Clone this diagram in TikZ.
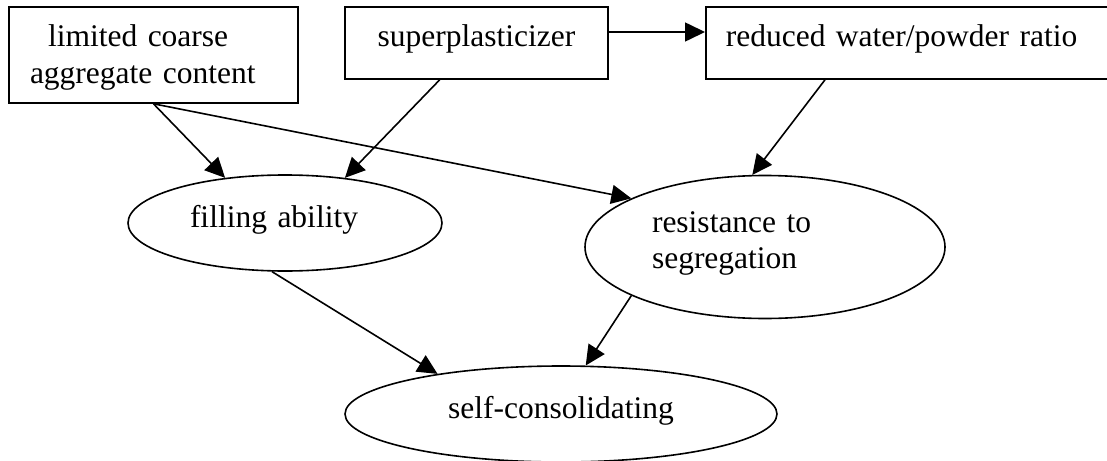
\documentclass[tikz,border=0pt]{standalone}
\usepackage{fontspec}
\setmainfont{Liberation Serif}
\usetikzlibrary{shapes.geometric,arrows.meta}

\begin{document}
\begin{tikzpicture}[x=1pt, y=-1pt, line width=1.6pt, >={Triangle[length=20pt,width=19pt]},
  every node/.style={font=\fontsize{31.5}{36}\selectfont, inner sep=0pt, text height=21pt, text depth=13pt},
  box/.style={draw, rectangle},
  oval/.style={draw, ellipse}]
  \useasboundingbox (0,0) rectangle (1107,460);

  \node[box, minimum width=289pt, minimum height=96pt, text width=247pt, align=left, text depth=37pt] (limited) at (153.5,55) {\hspace*{18pt}limited coarse\\aggregate content};
  \node[box, minimum width=263pt, minimum height=72pt] (superpl) at (476.5,43) {superplasticizer};
  \node[box, anchor=west, minimum height=72pt, inner xsep=20pt, text width=380pt, align=left] (reduced) at (705,43) {reduced water/powder ratio};

  \node[oval, minimum width=314pt, minimum height=96pt, text width=190pt, align=left] (filling) at (285,223) {filling ability};
  \node[oval, minimum width=360pt, minimum height=143pt, text width=226pt, align=left, text depth=51pt] (resist) at (765,247) {resistance to\\segregation};
  \node[oval, minimum width=432pt, minimum height=96pt] (selfcons) at (561,414) {self-consolidating};

  \draw[->] ([yshift=11pt]superpl.east) -- ([yshift=11pt]reduced.west);
  \draw[->] (limited.south) -- (filling.143);
  \draw[->] (superpl.225) -- (filling.37);
  \draw[->] (limited.south) -- (resist.160);
  \draw[->] ([xshift=120pt]reduced.south west) -- (resist.100);
  \draw[->] (filling.255) -- (selfcons.162);
  \draw[->] (resist.200) -- (selfcons.63);
\end{tikzpicture}
\end{document}
